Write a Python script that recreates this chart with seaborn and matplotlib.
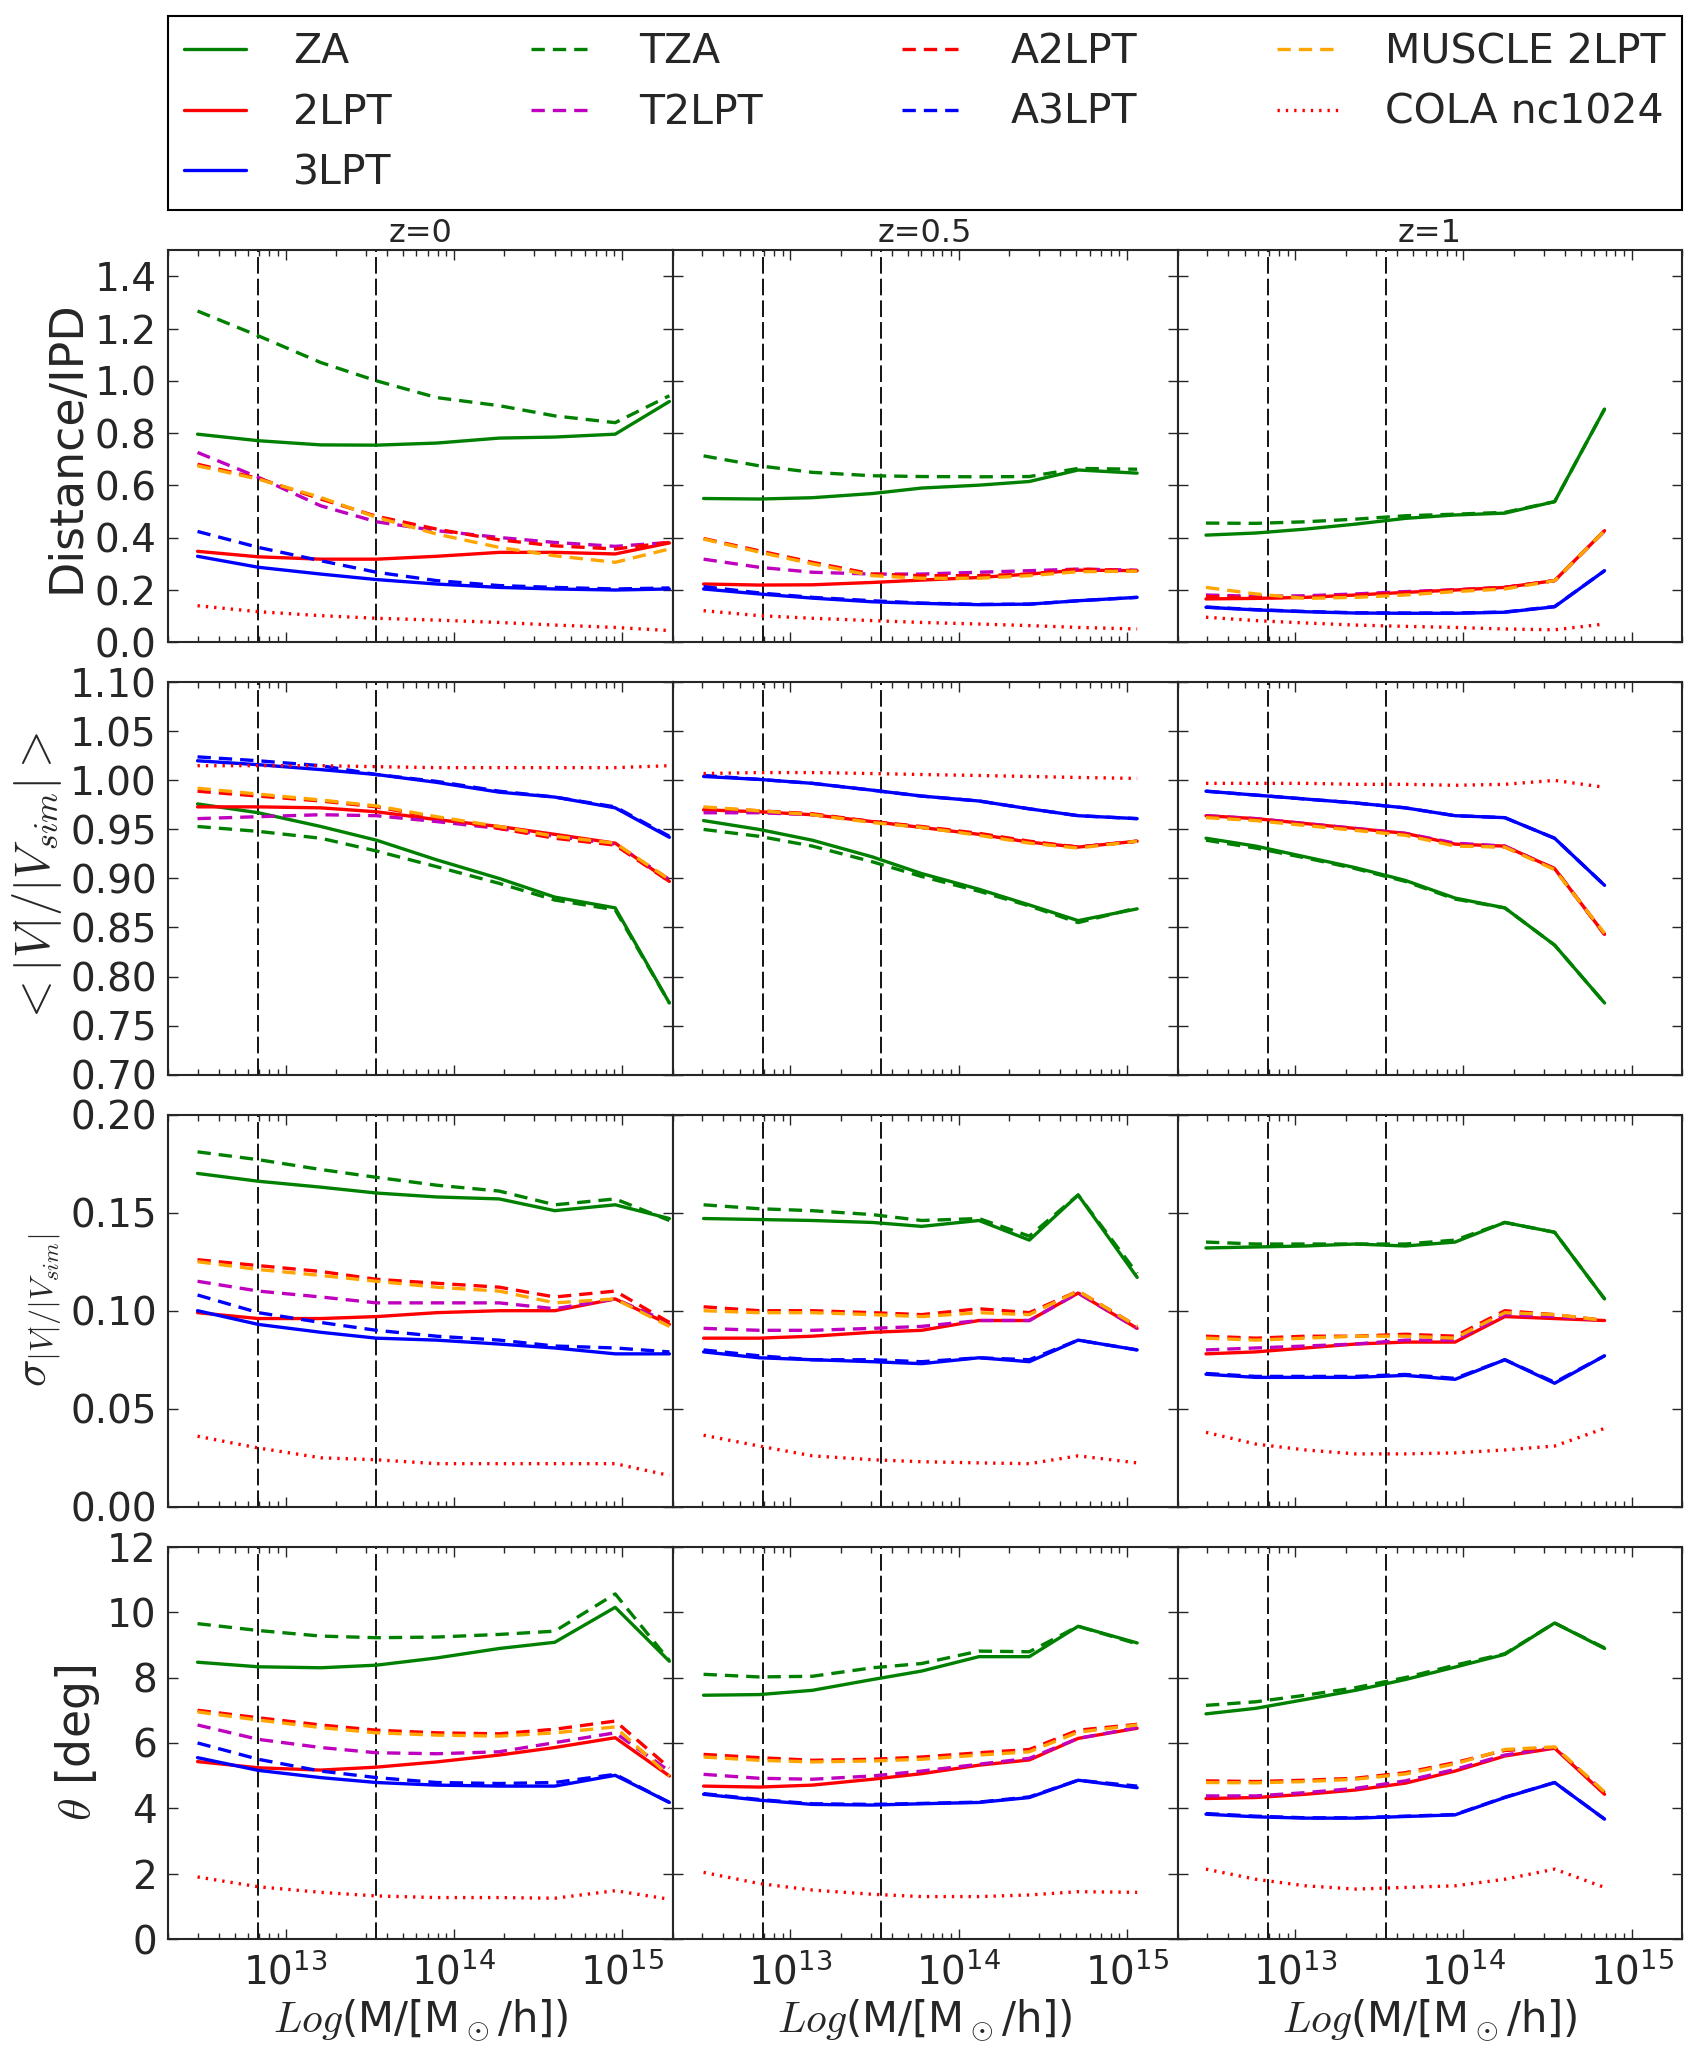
import matplotlib
matplotlib.use("Agg")
import matplotlib.pyplot as plt
from matplotlib.lines import Line2D
from matplotlib.ticker import FormatStrFormatter
import seaborn as sns

# halo mass bin centres [M_sun/h], one list per redshift
mass_z0 = [3.0e12, 6.9e12, 1.62e13, 3.47e13, 7.9e13, 1.86e14, 3.98e14, 9.1e14, 1.91e15]
mass_z05 = [3.05e12, 6.52e12, 1.35e13, 3.07e13, 6.03e13, 1.32e14, 2.63e14, 5.13e14, 1.15e15]
mass_z1 = [2.95e12, 5.83e12, 1.15e13, 2.28e13, 4.51e13, 8.91e13, 1.76e14, 3.48e14, 6.89e14]

# mass cuts (vertical dashed lines)
mass_cuts = [6.9e12, 3.45e13]

redshifts = ["z=0", "z=0.5", "z=1"]
series = ["ZA", "2LPT", "3LPT", "TZA", "T2LPT", "A2LPT", "A3LPT", "MUSCLE 2LPT", "COLA nc1024"]

# rows of every table follow the order of `series`
# Distance / IPD
dist_z0 = [
    [0.796, 0.771, 0.755, 0.754, 0.762, 0.781, 0.785, 0.796, 0.921],
    [0.348, 0.327, 0.318, 0.318, 0.329, 0.344, 0.344, 0.338, 0.380],
    [0.329, 0.287, 0.261, 0.240, 0.223, 0.210, 0.204, 0.200, 0.204],
    [1.267, 1.172, 1.070, 1.000, 0.936, 0.905, 0.866, 0.840, 0.943],
    [0.726, 0.631, 0.522, 0.461, 0.427, 0.401, 0.382, 0.367, 0.382],
    [0.681, 0.627, 0.548, 0.482, 0.433, 0.392, 0.369, 0.357, 0.382],
    [0.424, 0.363, 0.312, 0.268, 0.236, 0.217, 0.210, 0.204, 0.208],
    [0.675, 0.624, 0.554, 0.478, 0.414, 0.363, 0.331, 0.306, 0.357],
    [0.140, 0.117, 0.102, 0.092, 0.085, 0.076, 0.066, 0.057, 0.045],
]
dist_z05 = [
    [0.550, 0.548, 0.553, 0.569, 0.590, 0.601, 0.615, 0.659, 0.647],
    [0.223, 0.219, 0.220, 0.229, 0.238, 0.248, 0.261, 0.276, 0.274],
    [0.204, 0.185, 0.169, 0.155, 0.149, 0.144, 0.146, 0.159, 0.172],
    [0.713, 0.675, 0.650, 0.637, 0.634, 0.633, 0.634, 0.665, 0.662],
    [0.318, 0.287, 0.268, 0.261, 0.261, 0.268, 0.274, 0.280, 0.276],
    [0.397, 0.350, 0.306, 0.261, 0.255, 0.255, 0.261, 0.280, 0.274],
    [0.213, 0.189, 0.172, 0.159, 0.150, 0.145, 0.146, 0.159, 0.172],
    [0.395, 0.345, 0.300, 0.255, 0.245, 0.245, 0.255, 0.270, 0.272],
    [0.121, 0.102, 0.092, 0.083, 0.076, 0.070, 0.064, 0.057, 0.051],
]
dist_z1 = [
    [0.410, 0.418, 0.433, 0.452, 0.474, 0.487, 0.494, 0.538, 0.892],
    [0.166, 0.168, 0.172, 0.181, 0.191, 0.200, 0.210, 0.236, 0.427],
    [0.134, 0.124, 0.117, 0.112, 0.111, 0.111, 0.115, 0.136, 0.274],
    [0.456, 0.455, 0.461, 0.471, 0.484, 0.490, 0.497, 0.538, 0.892],
    [0.181, 0.176, 0.178, 0.185, 0.194, 0.201, 0.210, 0.236, 0.427],
    [0.175, 0.170, 0.172, 0.180, 0.190, 0.200, 0.210, 0.236, 0.427],
    [0.135, 0.125, 0.118, 0.113, 0.112, 0.112, 0.116, 0.137, 0.274],
    [0.210, 0.185, 0.168, 0.172, 0.181, 0.194, 0.204, 0.236, 0.427],
    [0.096, 0.083, 0.074, 0.066, 0.061, 0.057, 0.051, 0.048, 0.070],
]

# < |V| / |V_sim| >
vel_z0 = [
    [0.976, 0.967, 0.953, 0.939, 0.919, 0.900, 0.881, 0.870, 0.773],
    [0.973, 0.973, 0.972, 0.968, 0.960, 0.953, 0.945, 0.936, 0.897],
    [1.020, 1.016, 1.011, 1.006, 0.998, 0.988, 0.983, 0.972, 0.942],
    [0.953, 0.948, 0.941, 0.928, 0.912, 0.895, 0.878, 0.868, 0.773],
    [0.961, 0.963, 0.965, 0.964, 0.958, 0.951, 0.943, 0.935, 0.899],
    [0.989, 0.984, 0.979, 0.973, 0.962, 0.951, 0.941, 0.934, 0.897],
    [1.024, 1.020, 1.015, 1.006, 0.999, 0.989, 0.983, 0.973, 0.943],
    [0.992, 0.986, 0.980, 0.974, 0.963, 0.953, 0.943, 0.936, 0.899],
    [1.015, 1.015, 1.015, 1.014, 1.013, 1.013, 1.013, 1.013, 1.015],
]
vel_z05 = [
    [0.959, 0.950, 0.939, 0.922, 0.905, 0.889, 0.873, 0.857, 0.869],
    [0.970, 0.968, 0.965, 0.958, 0.952, 0.945, 0.937, 0.932, 0.938],
    [1.004, 1.001, 0.997, 0.990, 0.984, 0.979, 0.971, 0.964, 0.961],
    [0.950, 0.943, 0.933, 0.917, 0.902, 0.887, 0.872, 0.855, 0.870],
    [0.967, 0.967, 0.965, 0.958, 0.952, 0.945, 0.937, 0.932, 0.938],
    [0.972, 0.969, 0.966, 0.958, 0.953, 0.946, 0.938, 0.932, 0.938],
    [1.005, 1.001, 0.997, 0.990, 0.984, 0.979, 0.971, 0.964, 0.961],
    [0.973, 0.969, 0.965, 0.957, 0.952, 0.944, 0.936, 0.931, 0.938],
    [1.007, 1.008, 1.008, 1.007, 1.006, 1.005, 1.004, 1.003, 1.002],
]
vel_z1 = [
    [0.941, 0.933, 0.922, 0.911, 0.898, 0.880, 0.870, 0.832, 0.773],
    [0.964, 0.961, 0.956, 0.951, 0.946, 0.935, 0.933, 0.910, 0.843],
    [0.989, 0.985, 0.981, 0.977, 0.972, 0.964, 0.962, 0.941, 0.893],
    [0.939, 0.931, 0.921, 0.910, 0.897, 0.879, 0.870, 0.832, 0.773],
    [0.964, 0.961, 0.956, 0.951, 0.946, 0.936, 0.933, 0.910, 0.843],
    [0.963, 0.960, 0.955, 0.950, 0.945, 0.934, 0.932, 0.910, 0.843],
    [0.989, 0.985, 0.981, 0.977, 0.972, 0.964, 0.962, 0.941, 0.893],
    [0.962, 0.959, 0.954, 0.949, 0.944, 0.933, 0.932, 0.909, 0.844],
    [0.997, 0.997, 0.997, 0.996, 0.996, 0.995, 0.996, 1.000, 0.993],
]

# sigma of |V| / |V_sim|
sig_z0 = [
    [0.170, 0.166, 0.163, 0.160, 0.158, 0.157, 0.151, 0.154, 0.147],
    [0.099, 0.096, 0.096, 0.097, 0.099, 0.100, 0.100, 0.106, 0.093],
    [0.100, 0.093, 0.089, 0.086, 0.085, 0.083, 0.081, 0.078, 0.078],
    [0.181, 0.177, 0.172, 0.168, 0.164, 0.161, 0.154, 0.157, 0.146],
    [0.115, 0.110, 0.107, 0.104, 0.104, 0.104, 0.101, 0.106, 0.094],
    [0.126, 0.123, 0.120, 0.116, 0.114, 0.112, 0.107, 0.110, 0.094],
    [0.108, 0.099, 0.094, 0.090, 0.087, 0.085, 0.082, 0.081, 0.079],
    [0.125, 0.121, 0.118, 0.115, 0.112, 0.110, 0.104, 0.106, 0.092],
    [0.036, 0.030, 0.025, 0.024, 0.022, 0.022, 0.022, 0.022, 0.016],
]
sig_z05 = [
    [0.147, 0.1465, 0.146, 0.145, 0.143, 0.146, 0.136, 0.159, 0.117],
    [0.086, 0.086, 0.087, 0.089, 0.090, 0.095, 0.095, 0.109, 0.091],
    [0.079, 0.076, 0.075, 0.074, 0.073, 0.076, 0.074, 0.085, 0.080],
    [0.154, 0.152, 0.151, 0.149, 0.146, 0.147, 0.138, 0.159, 0.119],
    [0.091, 0.090, 0.090, 0.091, 0.092, 0.095, 0.095, 0.109, 0.091],
    [0.102, 0.100, 0.100, 0.099, 0.098, 0.101, 0.099, 0.110, 0.092],
    [0.080, 0.077, 0.075, 0.075, 0.074, 0.076, 0.075, 0.085, 0.080],
    [0.100, 0.099, 0.099, 0.098, 0.097, 0.099, 0.098, 0.110, 0.092],
    [0.0365, 0.031, 0.026, 0.024, 0.023, 0.0224, 0.022, 0.026, 0.0224],
]
sig_z1 = [
    [0.132, 0.1325, 0.133, 0.134, 0.133, 0.135, 0.145, 0.140, 0.106],
    [0.078, 0.079, 0.081, 0.083, 0.084, 0.084, 0.097, 0.096, 0.095],
    [0.0676, 0.066, 0.066, 0.066, 0.067, 0.065, 0.075, 0.063, 0.077],
    [0.135, 0.134, 0.134, 0.134, 0.134, 0.136, 0.145, 0.140, 0.106],
    [0.080, 0.081, 0.082, 0.083, 0.085, 0.085, 0.098, 0.097, 0.095],
    [0.087, 0.086, 0.087, 0.087, 0.088, 0.087, 0.100, 0.098, 0.095],
    [0.068, 0.0665, 0.0665, 0.0665, 0.0675, 0.0655, 0.075, 0.0635, 0.077],
    [0.086, 0.085, 0.086, 0.087, 0.087, 0.086, 0.099, 0.098, 0.095],
    [0.038, 0.032, 0.029, 0.027, 0.027, 0.0275, 0.029, 0.031, 0.040],
]

# theta [deg]
theta_z0 = [
    [8.47, 8.33, 8.30, 8.38, 8.60, 8.89, 9.08, 10.15, 8.50],
    [5.43, 5.24, 5.17, 5.26, 5.42, 5.63, 5.86, 6.16, 4.99],
    [5.55, 5.16, 4.94, 4.79, 4.71, 4.68, 4.68, 5.01, 4.18],
    [9.65, 9.44, 9.27, 9.22, 9.24, 9.32, 9.42, 10.56, 8.52],
    [6.55, 6.11, 5.86, 5.70, 5.67, 5.73, 6.01, 6.31, 5.14],
    [7.00, 6.77, 6.55, 6.39, 6.31, 6.28, 6.42, 6.67, 5.24],
    [6.00, 5.50, 5.14, 4.94, 4.79, 4.76, 4.79, 5.04, 4.18],
    [6.95, 6.70, 6.47, 6.31, 6.24, 6.21, 6.31, 6.49, 4.99],
    [1.90, 1.60, 1.43, 1.32, 1.27, 1.27, 1.25, 1.48, 1.22],
]
theta_z05 = [
    [7.46, 7.48, 7.61, 7.94, 8.20, 8.64, 8.64, 9.57, 9.06],
    [4.68, 4.65, 4.71, 4.89, 5.06, 5.32, 5.48, 6.14, 6.45],
    [4.43, 4.25, 4.12, 4.10, 4.14, 4.18, 4.33, 4.86, 4.63],
    [8.10, 8.02, 8.04, 8.30, 8.43, 8.81, 8.79, 9.57, 9.03],
    [5.04, 4.92, 4.89, 4.99, 5.14, 5.35, 5.53, 6.14, 6.47],
    [5.65, 5.55, 5.47, 5.50, 5.57, 5.70, 5.80, 6.39, 6.57],
    [4.45, 4.27, 4.14, 4.12, 4.15, 4.19, 4.35, 4.86, 4.68],
    [5.57, 5.47, 5.42, 5.45, 5.50, 5.63, 5.73, 6.33, 6.55],
    [2.04, 1.70, 1.50, 1.37, 1.30, 1.30, 1.35, 1.45, 1.43],
]
theta_z1 = [
    [6.89, 7.06, 7.33, 7.61, 7.94, 8.32, 8.71, 9.67, 8.89],
    [4.30, 4.33, 4.43, 4.56, 4.77, 5.14, 5.60, 5.84, 4.43],
    [3.82, 3.74, 3.70, 3.70, 3.75, 3.80, 4.33, 4.79, 3.67],
    [7.15, 7.26, 7.46, 7.69, 8.00, 8.38, 8.73, 9.67, 8.91],
    [4.38, 4.38, 4.48, 4.61, 4.84, 5.19, 5.63, 5.86, 4.48],
    [4.84, 4.82, 4.86, 4.92, 5.09, 5.40, 5.77, 5.86, 4.48],
    [3.84, 3.76, 3.71, 3.71, 3.76, 3.81, 4.34, 4.79, 3.67],
    [4.79, 4.78, 4.82, 4.89, 5.05, 5.36, 5.80, 5.88, 4.50],
    [2.14, 1.83, 1.63, 1.53, 1.58, 1.63, 1.83, 2.14, 1.58],
]

masses = [mass_z0, mass_z05, mass_z1]
rows = [
    [dist_z0, dist_z05, dist_z1],
    [vel_z0, vel_z05, vel_z1],
    [sig_z0, sig_z05, sig_z1],
    [theta_z0, theta_z05, theta_z1],
]
ylabels = ["Distance/IPD", r"$<|V|/|V_{sim}|>$",
           r"$\sigma_{|V|/|V_{sim}|}$", r"$\theta$ [deg]"]
ylabel_sizes = [33, 35, 33, 33]

# style of each series
dash = (0, (4.0, 2.4))
dot = (0, (0.7, 1.8))
colors = ["g", "r", "b", "g", "m", "r", "b", "orange", "r"]
styles = ["-", "-", "-", dash, dash, dash, dash, dash, dot]

sns.set_style("ticks", {"xtick.direction": "in", "ytick.direction": "in"})
plt.rcParams["font.family"] = ["DejaVu Sans"]
plt.rcParams["mathtext.fontset"] = "cm"
plt.rcParams["axes.linewidth"] = 1.5

fig, axes = plt.subplots(4, 3, figsize=(16.96, 20.60), dpi=100,
                         sharex=True, sharey="row")
fig.subplots_adjust(left=0.099, right=0.992, bottom=0.0587, top=0.8786,
                    wspace=0.0, hspace=0.102)

ylims = [(0, 1.5), (0.70, 1.10), (0, 0.20), (0, 12)]
yticks = [[0.0, 0.2, 0.4, 0.6, 0.8, 1.0, 1.2, 1.4],
          [0.70, 0.75, 0.80, 0.85, 0.90, 0.95, 1.00, 1.05, 1.10],
          [0.00, 0.05, 0.10, 0.15, 0.20],
          [0, 2, 4, 6, 8, 10, 12]]
yfmt = ["%.1f", "%.2f", "%.2f", "%d"]

for r in range(4):
    for c in range(3):
        ax = axes[r, c]
        ax.set_xscale("log")
        for x0 in mass_cuts:
            ax.axvline(x0, color="k", lw=1.3, ls=(0, (9.2, 2.8)))
        for i, name in enumerate(series):
            sns.lineplot(x=masses[c], y=rows[r][c][i], ax=ax, color=colors[i],
                         linestyle=styles[i], lw=2.4, legend=False)
        ax.set_xlim(2e12, 2e15)
        ax.set_ylim(*ylims[r])
        ax.set_yticks(yticks[r])
        ax.yaxis.set_major_formatter(FormatStrFormatter(yfmt[r]))
        ax.tick_params(which="both", direction="in", top=True, right=True,
                       width=1.0, labelsize=28)
        ax.tick_params(which="major", length=7)
        ax.tick_params(which="minor", length=4)
        ax.tick_params(axis="y", pad=8)
        ax.tick_params(axis="x", pad=10)
        ax.set_xlabel("")
        ax.set_ylabel("")
        if r == 0:
            ax.set_title(redshifts[c], fontsize=23, pad=6)
        if r == 3:
            ax.set_xlabel(r"$Log$(M/[M$_\odot$/h])", fontsize=30)
    axes[r, 0].set_ylabel(ylabels[r], fontsize=ylabel_sizes[r])

handles = [Line2D([], [], color=colors[i], linestyle=styles[i], lw=2.4)
           for i in range(len(series))]
leg = fig.legend(handles, series, loc="upper left",
                 bbox_to_anchor=(168 / 1696, 1 - 16 / 2060, 1514 / 1696, 0.0),
                 mode="expand", ncol=4, fontsize=29.5, frameon=True,
                 fancybox=False, edgecolor="k", framealpha=1.0,
                 borderaxespad=0.0, borderpad=0.4, labelspacing=0.5,
                 handlelength=1.5, handletextpad=1.15)
leg.get_frame().set_linewidth(1.5)

fig.savefig("out.png", dpi=100)
